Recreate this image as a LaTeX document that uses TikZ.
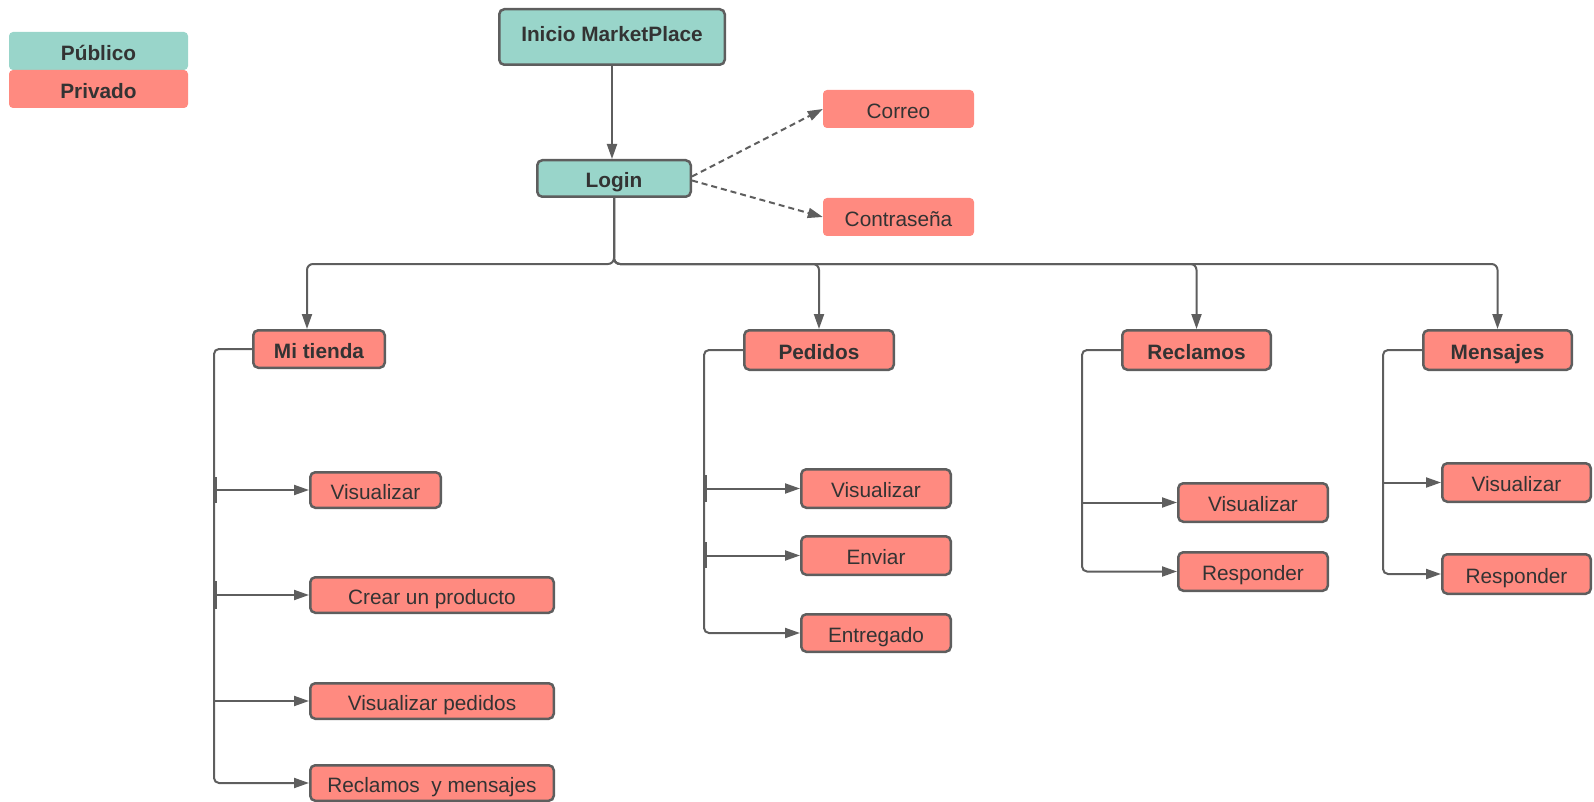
\documentclass[tikz,border=0pt]{standalone}
\usepackage{fontspec}
\setmainfont{Liberation Sans}
\usetikzlibrary{arrows.meta,calc}
\definecolor{pub}{HTML}{99D5CA}
\definecolor{priv}{HTML}{FF8A80}
\definecolor{edge}{HTML}{5E5E5E}
\definecolor{ink}{HTML}{333333}
\tikzset{
  lbl/.style={font=\fontsize{20.8}{24}\selectfont, text height=20pt, text depth=1.1pt},
  box/.style={rectangle, rounded corners=5pt, draw=edge, line width=2.5pt,
    text=ink, inner sep=0pt, lbl},
  pubbox/.style={box, fill=pub},
  privbox/.style={box, fill=priv},
  flatbox/.style={rectangle, rounded corners=4pt, text=ink, inner sep=0pt, lbl},
  head/.style={font=\fontsize{20.8}{24}\selectfont\bfseries},
  sz/.style 2 args={minimum width=#1pt, minimum height=#2pt},
  conn/.style={draw=edge, line width=2pt, -{Triangle[length=15pt,width=10pt]}},
  dashlink/.style={conn, dashed, dash pattern=on 6pt off 4pt},
  tick/.style={draw=edge, line width=2pt},
}
\begin{document}
\begin{tikzpicture}[x=1pt, y=-1pt]
\useasboundingbox (0,0) rectangle (1594,802);

% legend
\node[flatbox, fill=pub, head, sz={179}{38}] (keypub) at (98.5,51) {Público};
\node[flatbox, fill=priv, head, sz={179}{38}] (keypriv) at (98.5,89) {Privado};

% entry and login
\node[pubbox, head, sz={225.5}{55.5}, text height=15pt, text depth=5.7pt] (inicio) at (612,37) {Inicio MarketPlace};
\node[pubbox, head, sz={153.5}{36.5}] (login) at (614,178.5) {Login};
\node[flatbox, fill=priv, sz={151}{38}] (correo) at (898.5,109) {Correo};
\node[flatbox, fill=priv, sz={151}{38}] (contra) at (898.5,217) {Contraseña};

% sections
\node[privbox, head, sz={131.5}{37.5}] (mitienda) at (319,349) {Mi tienda};
\node[privbox, head, sz={149.5}{39.5}] (pedidos) at (819,350) {Pedidos};
\node[privbox, head, sz={148.5}{39.5}] (reclamos) at (1196.5,350) {Reclamos};
\node[privbox, head, sz={148.5}{39.5}] (mensajes) at (1497.5,350) {Mensajes};

% Mi tienda items
\node[privbox, sz={130.5}{35.5}] (mt1) at (375.5,490) {Visualizar};
\node[privbox, sz={243.5}{35.5}] (mt2) at (432,595) {Crear un producto};
\node[privbox, sz={243.5}{35.5}] (mt3) at (432,701) {Visualizar pedidos};
\node[privbox, sz={243.5}{35.5}] (mt4) at (432,783) {Reclamos\ \ y mensajes};

% Pedidos items
\node[privbox, sz={149.5}{38.5}] (pd1) at (876,488.5) {Visualizar};
\node[privbox, sz={149.5}{38.5}] (pd2) at (876,555.5) {Enviar};
\node[privbox, sz={149.5}{37.5}] (pd3) at (876,633) {Entregado};

% Reclamos items
\node[privbox, sz={149.5}{38.5}] (rc1) at (1253,502.5) {Visualizar};
\node[privbox, sz={149.5}{38.5}] (rc2) at (1253,571.5) {Responder};

% Mensajes items
\node[privbox, sz={148.5}{38.5}] (ms1) at (1516.5,482.5) {Visualizar};
\node[privbox, sz={148.5}{39.5}] (ms2) at (1516.5,574) {Responder};

% top flow
\draw[conn] (inicio.south) -- (inicio.south |- login.north);
\draw[dashlink] ([yshift=2pt]login.east) -- (correo.west);
\draw[dashlink] ([yshift=-2pt]login.east) -- (contra.west);

% distribution bus
\coordinate (bus) at (614,264);
\draw[conn, rounded corners=6pt] (login.south) -- (bus) -| ([xshift=-12pt]mitienda.north);
\draw[conn, rounded corners=6pt] (login.south) -- (bus) -| (pedidos.north);
\draw[conn, rounded corners=6pt] (login.south) -- (bus) -| (reclamos.north);
\draw[conn, rounded corners=6pt] (login.south) -- (bus) -| (mensajes.north);

% Mi tienda trunk
\coordinate (mtT) at (214,349);
\draw[conn, rounded corners=5pt] (mitienda.west) -- (mtT) |- (mt4.west);
\draw[conn] (mtT |- mt1.west) -- (mt1.west);
\draw[conn] (mtT |- mt2.west) -- (mt2.west);
\draw[conn] (mtT |- mt3.west) -- (mt3.west);
\draw[tick] (215.5,477) -- (215.5,503);
\draw[tick] (215.5,581) -- (215.5,609);

% Pedidos trunk
\coordinate (pdT) at (704,350);
\draw[conn, rounded corners=5pt] (pedidos.west) -- (pdT) |- (pd3.west);
\draw[conn] (pdT |- pd1.west) -- (pd1.west);
\draw[conn] (pdT |- pd2.west) -- (pd2.west);
\draw[tick] (705.5,475) -- (705.5,502);
\draw[tick] (705.5,542) -- (705.5,568);

% Reclamos trunk
\coordinate (rcT) at (1082,350);
\draw[conn, rounded corners=5pt] (reclamos.west) -- (rcT) |- (rc2.west);
\draw[conn] (rcT |- rc1.west) -- (rc1.west);

% Mensajes trunk
\coordinate (msT) at (1383,350);
\draw[conn, rounded corners=5pt] (mensajes.west) -- (msT) |- (ms2.west);
\draw[conn] (msT |- ms1.west) -- (ms1.west);
\end{tikzpicture}
\end{document}
